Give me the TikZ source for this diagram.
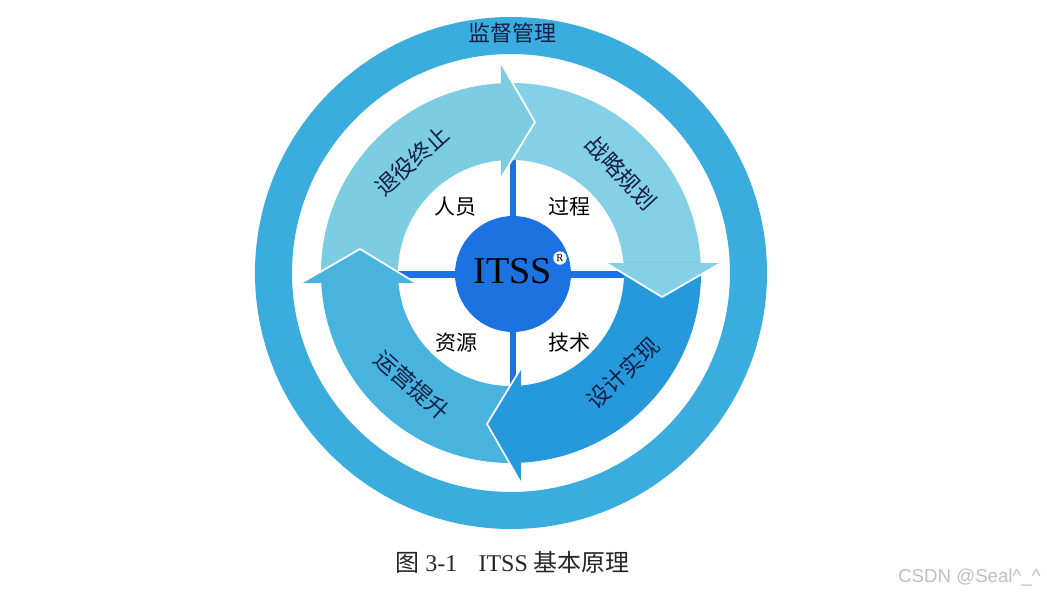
\documentclass[tikz,border=0pt]{standalone}
\usepackage{fontspec}
\setmainfont{Liberation Serif}
\newfontfamily\cjk{Noto Sans CJK SC}
\newfontfamily\wmfont{Liberation Sans}
\definecolor{ringc}{RGB}{58,172,222}
\definecolor{lightA}{RGB}{124,204,226}
\definecolor{lightB}{RGB}{132,208,230}
\definecolor{midC}{RGB}{72,180,222}
\definecolor{darkC}{RGB}{38,152,220}
\definecolor{coreC}{RGB}{28,114,224}
\definecolor{navy}{RGB}{20,30,70}
\tikzset{
  inlab/.style={font=\cjk\fontsize{15.75}{18}\selectfont, text=black, inner sep=0pt},
  arclab/.style={font=\cjk\fontsize{17}{19}\selectfont, text=navy, inner sep=0pt},
  headedge/.style={draw=white, line width=1.3, line join=miter},
}
\begin{document}
\begin{tikzpicture}[x=0.75pt,y=0.75pt]
\useasboundingbox (-511,-324) rectangle (536,273);
% outer ring
\fill[ringc, even odd rule] (0,0) circle (256) (0,0) circle (219);
% cross bars
\fill[coreC] (-115,-4.5) rectangle (115,2.5);
\fill[coreC] (-1,-115) rectangle (5.5,115);
% arrow bodies
\foreach \r/\c in {0/lightA, -90/lightB, -180/darkC, 90/midC}{
  \fill[\c, rotate=\r] (183.02:190) arc[start angle=183.02, end angle=93.02, radius=190]
     -- (95.08:113) arc[start angle=95.08, end angle=185.08, radius=113] -- cycle;
}
% arrow heads
\foreach \r/\c in {0/lightA, -90/lightB, -180/darkC, 90/midC}{
  \fill[\c, rotate=\r] (-10,95) -- (24,151) -- (-10,210) -- cycle;
  \draw[headedge, rotate=\r] (-10,95) -- (24,151) -- (-10,210);
}
% core
\node[circle, fill=coreC, minimum size=87pt, inner sep=0pt] (core) at (2,-1) {};
\node[font=\fontsize{28.5}{30}\selectfont, inner sep=0pt] (itss) at (1.5,2) {ITSS};
\node[circle, fill=white, inner sep=0pt, minimum size=10pt, font=\fontsize{8}{8}\selectfont] (reg) at (49,15) {R};
% inner labels
\node[inlab] (ry) at (-55,66) {人员};
\node[inlab] (gc) at (59,66) {过程};
\node[inlab] (zy) at (-54,-70) {资源};
\node[inlab] (js) at (59,-70) {技术};
% ring label
\node[font=\cjk\fontsize{16.5}{18}\selectfont, text=navy, inner sep=0pt] (jd) at (2,240) {监督管理};
% arc labels
\node[arclab, rotate=42] (ty) at (-99,112) {退役终止};
\node[arclab, rotate=-47] (zl) at (110,100) {战略规划};
\node[arclab, rotate=44] (sj) at (112,-100) {设计实现};
\node[arclab, rotate=-42] (yy) at (-99,-112) {运营提升};
% caption
\node[anchor=west, inner sep=0pt, font=\fontsize{18}{20}\selectfont, text=black!85] (cap) at (-116,-289)
  {{\cjk 图} 3-1\hspace{16pt}ITSS {\cjk 基本原理}};
% watermark
\node[anchor=west, inner sep=0pt, font=\wmfont\fontsize{14}{16}\selectfont, text=black!25] (wm) at (387,-305) {CSDN @Seal\^{}\_\^{}};
\end{tikzpicture}
\end{document}
